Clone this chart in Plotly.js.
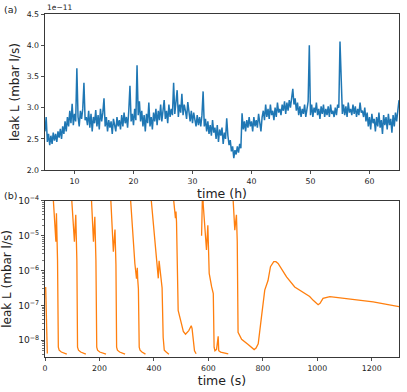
<!DOCTYPE html>
<html>
<head>
<meta charset="utf-8">
<script src="https://cdn.plot.ly/plotly-3.0.1.min.js"></script>
<style>
html,body{margin:0;padding:0;background:#fff;}
#chart{width:407px;height:392px;}
</style>
</head>
<body>
<div id="chart"></div>
<script>
// ---- Panel (a): leak rate vs time in hours, values in units of 1e-11 mbar l/s ----
const startH = 5;          // first sample time (h)
const stepH = 0.2;         // sampling interval (h)
const leakA_e11 = [
  2.62, 2.85, 2.45, 2.58, 2.40,
  2.55, 2.42, 2.60, 2.47, 2.58,
  2.45, 2.62, 2.52, 2.66, 2.50,
  2.70, 2.58, 2.78, 2.62, 2.85,
  2.70, 2.95, 2.75, 3.06, 2.72,
  2.90, 2.78, 3.63, 2.85, 2.70,
  2.95, 2.82, 2.98, 3.40, 2.80,
  2.85, 2.72, 2.95, 2.68, 2.90,
  2.62, 2.85, 2.75, 2.96, 2.70,
  2.88, 2.65, 2.98, 2.78, 2.92,
  3.15, 2.70, 2.85, 2.62, 2.80,
  2.68, 2.78, 2.58, 2.82, 2.72,
  2.62, 2.85, 2.70, 2.80, 2.65,
  2.88, 2.70, 2.92, 2.75, 2.85,
  2.68, 2.95, 3.35, 2.78, 2.90,
  2.72, 2.98, 2.80, 3.68, 2.88,
  3.10, 2.78, 2.95, 2.70, 2.88,
  2.62, 2.90, 2.75, 3.08, 2.70,
  2.85, 2.65, 2.92, 2.78, 2.98,
  2.72, 2.95, 2.80, 3.05, 2.78,
  2.92, 3.12, 2.82, 2.95, 2.75,
  3.05, 2.85, 2.98, 2.88, 3.40,
  2.90, 3.10, 3.28, 2.85, 3.05,
  2.92, 3.22, 2.88, 3.05, 2.95,
  2.82, 3.09, 2.90, 2.78, 2.95,
  2.75, 2.92, 2.80, 2.70, 2.88,
  2.72, 2.85, 2.70, 2.88, 3.26,
  2.70, 2.82, 2.62, 2.78, 2.58,
  2.72, 2.55, 2.80, 2.60, 2.68,
  2.50, 2.72, 2.45, 2.65, 2.55,
  2.68, 2.42, 2.60, 2.50, 2.83,
  2.55, 2.40, 2.48, 2.30, 2.38,
  2.19, 2.32, 2.25, 2.38, 2.28,
  2.42, 2.35, 2.91, 2.65, 2.78,
  2.62, 2.80, 2.68, 2.85, 2.70,
  2.78, 2.62, 2.85, 2.70, 2.80,
  2.68, 2.90, 2.75, 2.62, 2.85,
  2.95, 2.80, 3.05, 2.85, 2.98,
  2.82, 3.05, 2.88, 2.95, 2.80,
  3.00, 2.85, 3.08, 2.92, 2.98,
  2.88, 3.05, 2.95, 3.10, 2.90,
  3.08, 2.95, 3.12, 3.00, 3.18,
  3.30, 3.05, 3.15, 2.95, 3.08,
  2.88, 3.02, 2.85, 2.98, 2.90,
  3.05, 2.85, 2.95, 3.10, 4.00,
  2.88, 3.05, 2.85, 3.00, 2.92,
  3.08, 2.88, 2.98, 2.82, 3.02,
  2.90, 3.05, 2.85, 2.98, 2.88,
  3.02, 2.85, 3.05, 2.90, 2.95,
  2.85, 3.00, 2.88, 3.05, 3.00,
  4.06, 3.61, 2.90, 3.05, 2.88,
  3.02, 2.85, 3.08, 2.92, 2.98,
  2.88, 3.05, 2.90, 3.02, 2.85,
  2.98, 2.88, 3.08, 2.92, 2.95,
  2.85, 3.00, 2.78, 2.92, 2.70,
  2.85, 2.65, 2.90, 2.75, 2.82,
  2.62, 2.85, 2.70, 2.92, 2.68,
  2.80, 2.58, 2.88, 2.72, 2.85,
  2.65, 2.90, 2.72, 2.82, 2.60,
  2.88, 2.70, 2.92, 2.78, 2.95,
  3.12
];
const timeA_h = leakA_e11.map((_, i) => +(startH + i * stepH).toFixed(2));

// ---- Panel (b): pump-down cycles, leak rate vs time in seconds (null = break between cycles) ----
const timeB_s = [
  2.5, 6, 8.5, null,
  28.5, 40, 42, 44, 46, 49, 52, 60, 80, null,
  96, 108, 113, 115, 117, 119.5, 123, 131, 150, null,
  169, 178, 183, 185, 187, 190, 193, 201, 224, null,
  240, 251, 257, 258.5, 260.5, 263, 266, 274, 294, null,
  312, 322, 330, 336, 339, 340.5, 343, 346, 349, 356, 369, null,
  387, 399, 410, 416, 419, 425, 430, 434, 438, 445, 455, null,
  469, 479, 481, 483, 489, 494, 501, 508, 516, 528, 537, 540, 546, 549, 555, null,
  575, 576, 579, 581, 593, 598, 601, 603, 612, 618, 621, 624, 630, 636, 638, 645, 673, null,
  689, 697, 703, 706, 709, 722, 746, 768, 775, 783, 795, 807, 819, 828, 840, 848, 856, 870, 887, 917, 948, 972, 985, 995, 1003, 1010, 1021, 1046, 1119, 1205, 1300
];
const leakB = [
  3.4e-7, 1.0e-8, 4.2e-9, null,
  2e-4, 6.8e-6, 4.4e-5, 1.0e-5, 2.0e-6, 6.3e-9, 5.2e-9, 4.6e-9, 4.0e-9, null,
  2e-4, 6.8e-6, 4.0e-5, 1.0e-5, 2.0e-6, 6.3e-9, 5.2e-9, 4.6e-9, 4.0e-9, null,
  2e-4, 6.8e-6, 3.5e-5, 9.0e-6, 2.0e-6, 6.3e-9, 5.2e-9, 4.6e-9, 4.0e-9, null,
  2e-4, 3.5e-6, 1.5e-5, 4.8e-6, 1.5e-6, 6.3e-9, 5.2e-9, 4.6e-9, 4.0e-9, null,
  2e-4, 1.2e-5, 1.6e-6, 5.9e-7, 1.2e-6, 5.6e-7, 3.0e-7, 6.3e-9, 5.2e-9, 4.6e-9, 4.0e-9, null,
  2e-4, 1.5e-5, 1.3e-6, 6.0e-7, 1.9e-6, 5.6e-7, 3.2e-7, 1.2e-8, 5.2e-9, 4.6e-9, 4.0e-9, null,
  2e-4, 3.2e-5, 5.0e-5, 2.5e-5, 7.2e-8, 4.5e-8, 3.0e-8, 1.8e-8, 1.5e-8, 1.9e-8, 2.6e-8, 2.2e-8, 6.3e-9, 5.0e-9, 4.1e-9, null,
  1.0e-5, 3e-4, 3e-4, 8e-5, 3.9e-6, 2.0e-5, 3.0e-6, 8.3e-7, 3.4e-7, 2.2e-7, 6.3e-9, 5.0e-9, 5.5e-9, 1.3e-8, 5.0e-9, 4.6e-9, 4.1e-9, null,
  2e-4, 1.45e-5, 4.0e-5, 6.8e-6, 1.7e-8, 1.07e-8, 7.6e-9, 5.4e-9, 6.0e-9, 7.9e-9, 4.7e-8, 2.75e-7, 5.2e-7, 1.3e-6, 1.8e-6, 1.8e-6, 1.6e-6, 1.05e-6, 6.6e-7, 3.4e-7, 2.3e-7, 1.8e-7, 1.4e-7, 1.15e-7, 1.05e-7, 1.15e-7, 1.6e-7, 1.8e-7, 1.5e-7, 1.26e-7, 9.3e-8
];

const FONT = 'DejaVu Sans';
const TXT = '#222';
const axisCommon = {
  showline: true, mirror: true, linecolor: '#222', linewidth: 0.9,
  ticks: 'outside', ticklen: 3.5, tickwidth: 0.8, tickcolor: '#222',
  showgrid: false, zeroline: false,
  tickfont: {family: FONT, size: 7.8, color: TXT}
};

const traces = [
  {x: timeA_h, y: leakA_e11, type: 'scatter', mode: 'lines',
   line: {color: '#1f77b4', width: 1.5}, xaxis: 'x', yaxis: 'y', hoverinfo: 'skip'},
  {x: timeB_s, y: leakB, type: 'scatter', mode: 'lines', connectgaps: false,
   line: {color: '#ff7f0e', width: 1.3}, xaxis: 'x2', yaxis: 'y2', hoverinfo: 'skip'}
];

const layout = {
  width: 407, height: 392,
  margin: {l: 45, r: 8, t: 14, b: 35},
  paper_bgcolor: '#fff', plot_bgcolor: '#fff',
  showlegend: false,
  font: {family: FONT, color: TXT},
  xaxis: Object.assign({}, axisCommon, {
    domain: [0, 1], anchor: 'y', range: [5, 65], dtick: 10, tick0: 0,
    title: {text: 'time (h)', font: {family: FONT, size: 12.5, color: TXT}, standoff: 2}
  }),
  yaxis: Object.assign({}, axisCommon, {
    domain: [0.545, 1], anchor: 'x', range: [2.0, 4.5], dtick: 0.5, tick0: 0, tickformat: '.1f',
    title: {text: 'leak L (mbar l/s)', font: {family: FONT, size: 12, color: TXT}, standoff: 4}
  }),
  xaxis2: Object.assign({}, axisCommon, {
    domain: [0, 1], anchor: 'y2', range: [0, 1300], dtick: 200, tick0: 0,
    title: {text: 'time (s)', font: {family: FONT, size: 12.5, color: TXT}, standoff: 2}
  }),
  yaxis2: Object.assign({}, axisCommon, {
    domain: [0, 0.455], anchor: 'x2', type: 'log', range: [-8.48, -4], dtick: 1,
    exponentformat: 'power',
    tickfont: {family: FONT, size: 7.3, color: TXT},
    minor: {ticks: 'outside', ticklen: 2, tickwidth: 0.6, tickcolor: '#222', showgrid: false},
    title: {text: 'leak L (mbar l/s)', font: {family: FONT, size: 12, color: TXT}, standoff: 3}
  }),
  annotations: [
    {text: '(a)', xref: 'paper', yref: 'paper', x: -0.122, y: 1.012, xanchor: 'left', yanchor: 'middle',
     showarrow: false, font: {family: FONT, size: 9.5, color: TXT}},
    {text: '(b)', xref: 'paper', yref: 'paper', x: -0.122, y: 0.472, xanchor: 'left', yanchor: 'middle',
     showarrow: false, font: {family: FONT, size: 9.5, color: TXT}},
    {text: '1e\u221211', xref: 'paper', yref: 'paper', x: 0, y: 1.0, xanchor: 'left', yanchor: 'bottom',
     showarrow: false, font: {family: FONT, size: 7.5, color: TXT}}
  ]
};

Plotly.newPlot('chart', traces, layout, {displayModeBar: false, staticPlot: true});
</script>
</body>
</html>
